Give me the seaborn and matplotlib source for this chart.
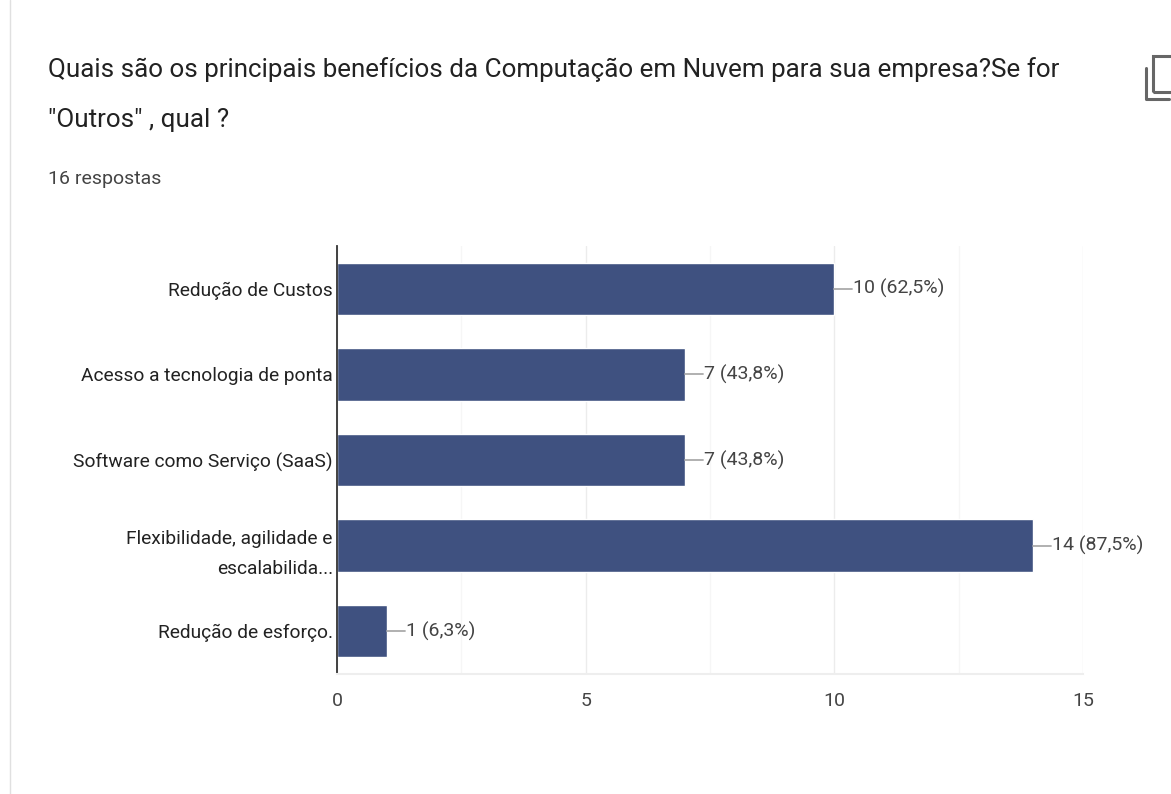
"""
Survey bar chart: benefits of cloud computing (16 answers).
"""
import matplotlib
matplotlib.use('Agg')
import matplotlib.pyplot as plt
from matplotlib.patches import Rectangle
import pandas as pd
import seaborn as sns

categories = ['Redução de Custos', 'Acesso a tecnologia de ponta', 'Software como Serviço (SaaS)',
              'Flexibilidade, agilidade e\nescalabilida...', 'Redução de esforço.']
counts = [10, 7, 7, 14, 1]
labels = ['10 (62,5%)', '7 (43,8%)', '7 (43,8%)', '14 (87,5%)', '1 (6,3%)']
major_ticks = [0, 5, 10, 15]
minor_ticks = [2.5, 7.5, 12.5]

sns.set_theme(style='white')
plt.rcParams['font.family'] = ['Roboto', 'DejaVu Sans']

W, H = 1171, 794
df = pd.DataFrame({'category': categories, 'count': counts})

fig = plt.figure(figsize=(W / 100, H / 100), dpi=100)
ax = fig.add_axes([337 / W, 1 - 674 / H, (1083 - 337) / W, (674 - 246) / H])

sns.barplot(data=df, x='count', y='category', color='#3f5180', saturation=1, width=0.61, ax=ax)
ax.set_xlim(0, 15)
ax.set_ylim(4.5, -0.5)
ax.set_xlabel('')
ax.set_ylabel('')

ax.set_xticks(major_ticks)
ax.set_xticks(minor_ticks, minor=True)
ax.grid(True, axis='x', which='major', color='#ececec', lw=1)
ax.grid(True, axis='x', which='minor', color='#f6f6f6', lw=1)
ax.set_axisbelow(True)
ax.tick_params(axis='x', which='both', length=0, pad=13, labelsize=14, labelcolor='#444444')
ax.tick_params(axis='y', length=0, pad=3, labelsize=13.75, labelcolor='#222222')
for lab in ax.get_yticklabels():
    lab.set_linespacing(1.9)

sns.despine(ax=ax, top=True, right=True)
ax.spines['left'].set_color('#333333')
ax.spines['left'].set_linewidth(1.3)
ax.spines['bottom'].set_color('#eeeeee')
ax.spines['bottom'].set_linewidth(1.5)

# leader line and value label beside each bar
for i, (c, lab) in enumerate(zip(counts, labels)):
    ax.plot([c, c + 0.36], [i, i], color='#aaaaaa', lw=1.3)
    ax.text(c + 0.38, i, lab, va='center', ha='left', fontsize=14, color='#444444')

fig.text(48 / W, 1 - 70 / H, 'Quais são os principais benefícios da Computação em Nuvem para sua empresa?Se for',
         fontsize=18.75, color='#222222', va='center')
fig.text(48 / W, 1 - 120 / H, '"Outros" , qual ?', fontsize=18.75, color='#222222', va='center')
fig.text(48 / W, 1 - 179 / H, '16 respostas', fontsize=14, color='#444444', va='center')

# page edge on the left
fig.add_artist(plt.Line2D([10 / W, 10 / W], [0, 1], color='#e0e0e0', lw=1))

# copy icon, top right
fig.add_artist(Rectangle((1153 / W, 1 - 92 / H), 30 / W, 36 / H, fill=False, ec='#666666', lw=2.2))
fig.add_artist(plt.Line2D([1146 / W, 1146 / W, 1169 / W], [1 - 68 / H, 1 - 99 / H, 1 - 99 / H],
                          color='#666666', lw=2.2))

fig.savefig('out.png', dpi=100)
